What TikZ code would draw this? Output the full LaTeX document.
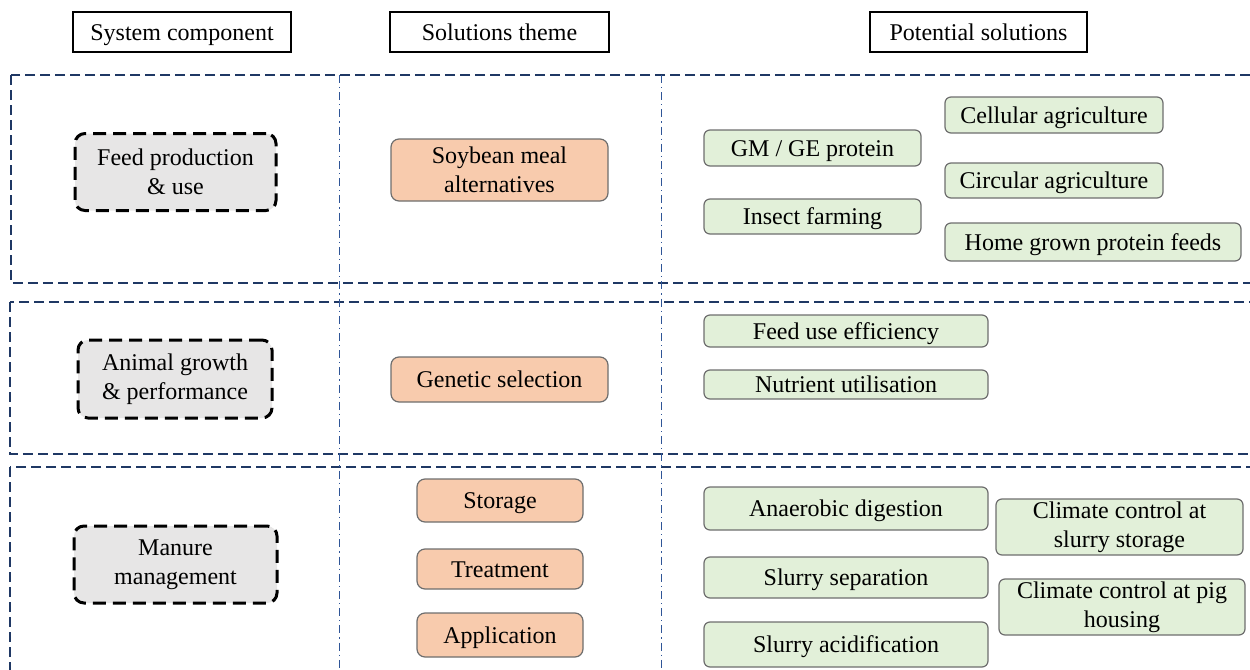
\documentclass[tikz,border=0pt]{standalone}
\usepackage{fontspec}
\setmainfont{Liberation Serif}
\definecolor{navy}{RGB}{31,56,100}
\definecolor{vblue}{RGB}{47,85,151}
\definecolor{grayfill}{RGB}{231,230,230}
\definecolor{orangefill}{RGB}{248,203,173}
\definecolor{greenfill}{RGB}{226,240,217}
\definecolor{boxedge}{RGB}{110,110,110}
\begin{document}
\begin{tikzpicture}[x=0.5pt,y=-0.5pt,
  every node/.style={font=\fontsize{12}{14.7}\selectfont, align=center, inner sep=0pt, text=black},
  oneline/.style={text height=10pt, text depth=2pt},
  header/.style={draw=black, line width=1.1pt, minimum height=20pt, oneline},
  rowbox/.style={draw=navy, line width=1.1pt, dash pattern=on 5pt off 2.5pt},
  colline/.style={draw=vblue, line width=0.5pt, dash pattern=on 4pt off 2pt on 0.6pt off 2pt},
  compbox/.style={draw=black, fill=grayfill, line width=1.5pt, dash pattern=on 6.5pt off 3.5pt, rounded corners=5pt},
  themebox/.style={draw=boxedge, fill=orangefill, line width=0.6pt, rounded corners=4pt},
  solbox/.style={draw=boxedge, fill=greenfill, line width=0.6pt, rounded corners=3pt}]
\useasboundingbox (0,0) rectangle (1250,670);
\clip (0,0) rectangle (1250,670);
% headers
\node[header, minimum width=109pt] (hsys) at (182,32) {System component};
\node[header, minimum width=109.5pt] (hsol) at (499.5,32) {Solutions theme};
\node[header, minimum width=108.5pt] (hpot) at (978.5,32) {Potential solutions};
% rows
\draw[rowbox] (11,75) rectangle (1270,283);
\draw[rowbox] (10,302) rectangle (1270,454);
\draw[rowbox] (10,467) rectangle (1270,700);
% column lines
\coordinate (c1t) at (339,75);
\coordinate (c1b) at (339,680);
\coordinate (c2t) at (661,75);
\coordinate (c2b) at (661,680);
\draw[colline] (c1t) -- (c1b);
\draw[colline] (c2t) -- (c2b);
% system components
\node[compbox, minimum width=100.5pt, minimum height=38.5pt] (g1) at (175.5,172) {Feed production\\ \& use};
\node[compbox, minimum width=97pt, minimum height=39pt] (g2) at (175,379) {Animal growth\\ \& performance};
\node[compbox, minimum width=101.5pt, minimum height=38.5pt] (g3) at (175.5,564.5) {Manure\\ management};
% themes
\node[themebox, minimum width=108.5pt, minimum height=31pt] (o1) at (499.5,170) {Soybean meal\\ alternatives};
\node[themebox, oneline, minimum width=108.5pt, minimum height=22.5pt] (o2) at (499.5,379.5) {Genetic selection};
\node[themebox, oneline, minimum width=83pt, minimum height=21.5pt] (o3) at (500,500.5) {Storage};
\node[themebox, oneline, minimum width=83pt, minimum height=20pt] (o4) at (500,569) {Treatment};
\node[themebox, oneline, minimum width=83pt, minimum height=22pt] (o5) at (500,635) {Application};
% solutions
\node[solbox, oneline, minimum width=108.5pt, minimum height=18pt] (p1) at (812.5,148) {GM / GE protein};
\node[solbox, oneline, minimum width=108.5pt, minimum height=17.5pt] (p2) at (812.5,216.5) {Insect farming};
\node[solbox, oneline, minimum width=109pt, minimum height=18pt] (p3) at (1054,115) {Cellular agriculture};
\node[solbox, oneline, minimum width=109pt, minimum height=17.5pt] (p4) at (1054,180.5) {Circular agriculture};
\node[solbox, oneline, minimum width=148pt, minimum height=19pt] (p5) at (1093,242) {Home grown protein feeds};
\node[solbox, oneline, minimum width=142pt, minimum height=16pt] (p6) at (846,331) {Feed use efficiency};
\node[solbox, oneline, minimum width=142pt, minimum height=14.5pt] (p7) at (846,384.5) {Nutrient utilisation};
\node[solbox, oneline, minimum width=142pt, minimum height=21.5pt] (p8) at (846,508.5) {Anaerobic digestion};
\node[solbox, oneline, minimum width=142pt, minimum height=20.5pt] (p9) at (846,577.5) {Slurry separation};
\node[solbox, oneline, minimum width=142pt, minimum height=22.5pt] (p10) at (846,644.5) {Slurry acidification};
\node[solbox, minimum width=123.5pt, minimum height=28pt] (p11) at (1119.5,527) {Climate control at\\ slurry storage};
\node[solbox, minimum width=123pt, minimum height=28pt] (p12) at (1122,607) {Climate control at pig\\ housing};
\end{tikzpicture}
\end{document}
